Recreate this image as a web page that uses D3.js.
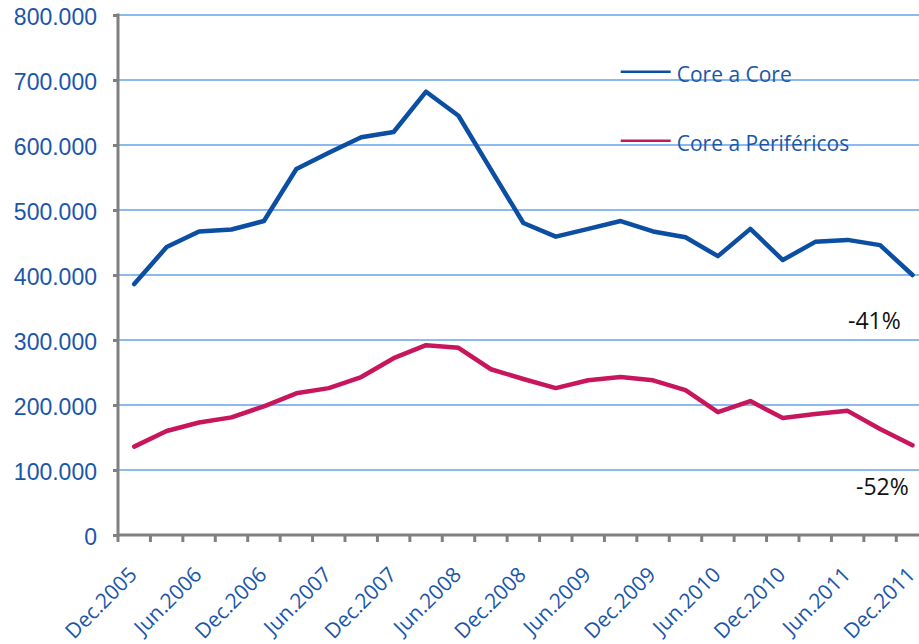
<!DOCTYPE html>
<html>
<head>
<meta charset="utf-8">
<script src="https://cdn.jsdelivr.net/npm/d3@7"></script>
<style>
  body { margin: 0; background: #fff; }
  svg { display: block; font-family: "Open Sans", sans-serif; }
</style>
</head>
<body>
<div id="chart"></div>
<script>
// quarterly periods, Dec.2005 .. Dec.2011
var periods = ["Dec.2005","Mar.2006","Jun.2006","Sep.2006","Dec.2006","Mar.2007","Jun.2007","Sep.2007",
               "Dec.2007","Mar.2008","Jun.2008","Sep.2008","Dec.2008","Mar.2009","Jun.2009","Sep.2009",
               "Dec.2009","Mar.2010","Jun.2010","Sep.2010","Dec.2010","Mar.2011","Jun.2011","Sep.2011","Dec.2011"];
// only every second period is labelled
var shownLabels = ["Dec.2005","Jun.2006","Dec.2006","Jun.2007","Dec.2007","Jun.2008","Dec.2008",
                   "Jun.2009","Dec.2009","Jun.2010","Dec.2010","Jun.2011","Dec.2011"];

var coreCore = [386000, 443000, 467000, 470000, 483000, 563000, 588000, 612000, 620000, 682000,
                645000, 562000, 480000, 459000, 471000, 483000, 467000, 458000, 429000, 471000,
                423000, 451000, 454000, 446000, 400000];
var corePerif = [136000, 160000, 173000, 181000, 198000, 218000, 226000, 243000, 272000, 292000,
                 288000, 255000, 240000, 226000, 238000, 243000, 238000, 223000, 189000, 206000,
                 180000, 186000, 191000, 163000, 138000];

var seriesNames = ["Core a Core", "Core a Periféricos"];
var seriesColors = ["#0b4ea2", "#c8165c"];
var yTicks = [0, 100000, 200000, 300000, 400000, 500000, 600000, 700000, 800000];
var changeLabels = ["-41%", "-52%"];

var width = 919, height = 644;
var textBlue = "#1a56a8";

var svg = d3.select("#chart").append("svg")
    .attr("width", width)
    .attr("height", height);

// plot area runs past the right edge of the picture, like the original
var x = d3.scaleBand()
    .domain(d3.range(periods.length))
    .range([118, 928.7])
    .padding(0);
var y = d3.scaleLinear()
    .domain([0, 800000])
    .range([535, 15]);

var fmt = d3.formatLocale({decimal: ",", thousands: ".", grouping: [3], currency: ["", ""]}).format(",.0f");

// gridlines
svg.append("g").selectAll("line")
    .data(yTicks.filter(function(d) { return d > 0; }))
    .enter().append("line")
    .attr("x1", 119).attr("x2", width)
    .attr("y1", function(d) { return y(d); })
    .attr("y2", function(d) { return y(d); })
    .attr("stroke", "#8bb9f0")
    .attr("stroke-width", 2.2);

// y axis
var yAxis = svg.append("g")
    .attr("transform", "translate(118,0)")
    .call(d3.axisLeft(y).tickValues(yTicks).tickSize(5).tickPadding(16).tickFormat(fmt));
yAxis.select(".domain").remove();
yAxis.selectAll(".tick line").attr("stroke", "#808080").attr("stroke-width", 3);
yAxis.selectAll(".tick text")
    .attr("fill", textBlue)
    .attr("font-size", "23px")
    .attr("dy", "0.42em");

svg.append("line")
    .attr("x1", 118).attr("x2", 118)
    .attr("y1", y(800000) - 1.5).attr("y2", y(0) + 1.5)
    .attr("stroke", "#808080").attr("stroke-width", 3);

// x axis: ticks sit between categories
var bounds = d3.range(periods.length).map(function(i) { return x(i); }).concat([x.range()[1]]);
svg.append("g").selectAll("line")
    .data(bounds)
    .enter().append("line")
    .attr("x1", function(d) { return d; })
    .attr("x2", function(d) { return d; })
    .attr("y1", y(0)).attr("y2", y(0) + 7)
    .attr("stroke", "#808080").attr("stroke-width", 3);

svg.append("line")
    .attr("x1", 118).attr("x2", width)
    .attr("y1", y(0)).attr("y2", y(0))
    .attr("stroke", "#808080").attr("stroke-width", 3);

svg.append("g").selectAll("text")
    .data(periods.map(function(p, i) { return {p: p, i: i}; })
                 .filter(function(d) { return shownLabels.indexOf(d.p) >= 0; }))
    .enter().append("text")
    .attr("transform", function(d) {
        return "translate(" + (x(d.i) + x.bandwidth() / 2 + 4) + ",576) rotate(-45)";
    })
    .attr("text-anchor", "end")
    .attr("fill", textBlue)
    .attr("font-size", "21px")
    .text(function(d) { return d.p; });

// lines
var line = d3.line()
    .x(function(d, i) { return x(i) + x.bandwidth() / 2; })
    .y(function(d) { return y(d); });

[coreCore, corePerif].forEach(function(s, k) {
    svg.append("path")
        .datum(s)
        .attr("d", line)
        .attr("fill", "none")
        .attr("stroke", seriesColors[k])
        .attr("stroke-width", 4.5)
        .attr("stroke-linejoin", "round")
        .attr("stroke-linecap", "round");
});

// legend
var legend = svg.append("g").selectAll("g")
    .data(seriesNames)
    .enter().append("g")
    .attr("transform", function(d, i) { return "translate(620.7," + (71.7 + i * 69) + ")"; });
legend.append("line")
    .attr("x1", 0).attr("x2", 50)
    .attr("stroke", function(d, i) { return seriesColors[i]; })
    .attr("stroke-width", 2.5);
legend.append("text")
    .attr("x", 56).attr("y", 10)
    .attr("fill", textBlue)
    .attr("font-size", "21px")
    .text(function(d) { return d; });

// change annotations
svg.append("g").selectAll("text")
    .data(changeLabels)
    .enter().append("text")
    .attr("x", function(d, i) { return [848, 856][i]; })
    .attr("y", function(d, i) { return [329, 495][i]; })
    .attr("fill", "#111")
    .attr("font-size", "23px")
    .text(function(d) { return d; });
</script>
</body>
</html>
